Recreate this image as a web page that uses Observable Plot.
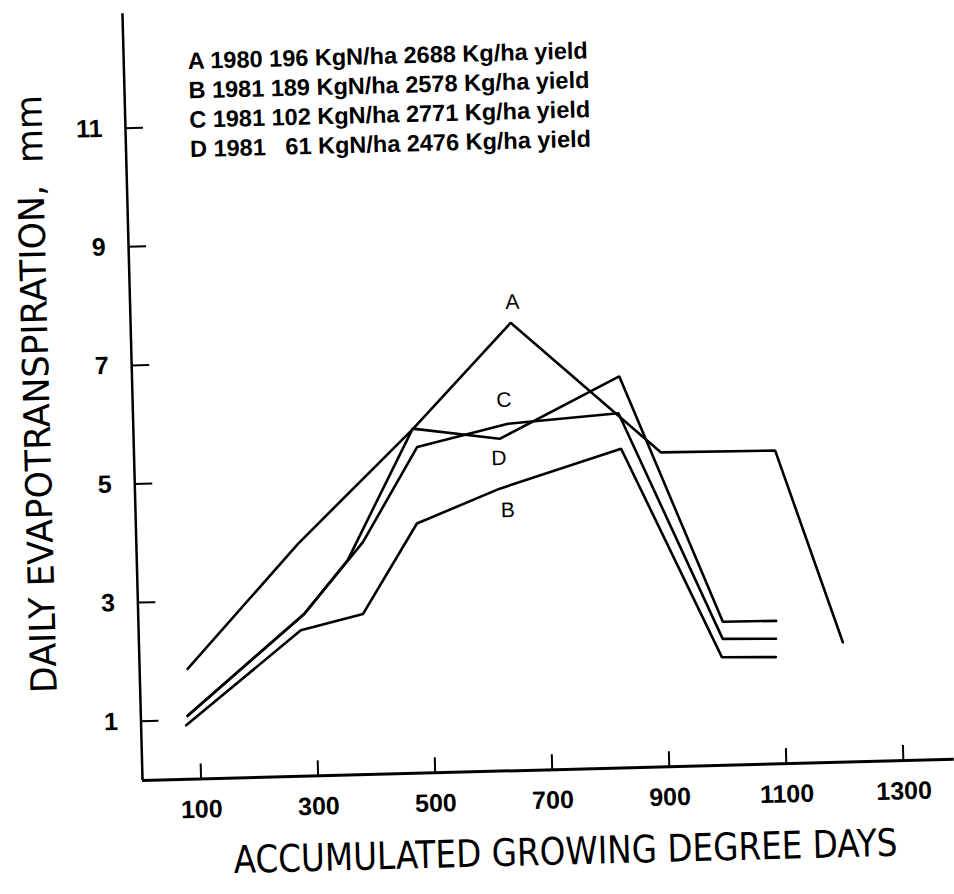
<!DOCTYPE html>
<html><head><meta charset="utf-8">
<script src="https://cdn.jsdelivr.net/npm/d3@7"></script>
<script src="https://cdn.jsdelivr.net/npm/@observablehq/plot@0.6"></script>
<style>
html,body{margin:0;padding:0;background:#fff;overflow:hidden;width:954px;height:894px}
#wrap{position:absolute;left:0;top:0;width:954px;height:894px;transform-origin:142px 779px;transform:rotate(-1.5deg)}
svg text{white-space:pre}
</style></head><body><div id="wrap"></div>
<script>
// Series (accumulated growing degree days, daily evapotranspiration mm)
const xA = [82, 276, 478, 649, 900, 1095, 1202];
const yA = [1.86, 3.92, 5.81, 7.55, 5.30, 5.28, 2.02];
const xB = [77, 277, 384, 480, 623, 832, 995, 1087];
const yB = [0.91, 2.46, 2.71, 4.21, 4.76, 5.38, 1.82, 1.80];
const xC = [80, 284, 360, 477, 625, 832, 998, 1089];
const yC = [1.07, 2.74, 3.62, 5.81, 5.60, 6.60, 2.42, 2.41];
const xD = [80, 284, 387, 484, 640, 829, 997, 1088];
const yD = [1.07, 2.74, 3.92, 5.50, 5.85, 5.98, 2.13, 2.11];

const seriesNames = ["A", "B", "C", "D"];
const labelX = [653, 636, 634, 623];
const labelY = [7.9, 4.39, 6.25, 5.27];

const legendYears = ["1980", "1981", "1981", "1981"];
const legendNitrogen = ["196", "189", "102", "61"];
const legendYield = ["2688", "2578", "2771", "2476"];

const xTicks = [100, 300, 500, 700, 900, 1100, 1300];
const yTicks = [1, 3, 5, 7, 9, 11];
const xTitle = "ACCUMULATED GROWING DEGREE DAYS";
const yTitle = "DAILY EVAPOTRANSPIRATION,  mm";

const xs = [xA, xB, xC, xD], ys = [yA, yB, yC, yD];
const rows = [];
seriesNames.forEach((s, i) => xs[i].forEach((x, j) => rows.push({series: s, x, y: ys[i][j]})));
const labels = seriesNames.map((s, i) => ({s, x: labelX[i], y: labelY[i]}));
const legendText = seriesNames.map((s, i) => {
  const n = legendNitrogen[i];
  const pad = " ".repeat(2 * (3 - n.length));
  return `${s} ${legendYears[i]} ${pad}${n} KgN/ha ${legendYield[i]} Kg/ha yield`;
}).join("\n");

const font = "'Liberation Sans', Arial, Helvetica, sans-serif";
const condensed = "'Liberation Sans Narrow', 'DejaVu Sans Condensed', 'Arial Narrow', sans-serif";

const chart = Plot.plot({
  width: 954,
  height: 894,
  marginLeft: 142,
  marginRight: 0,
  marginTop: 13,
  marginBottom: 114,
  style: {background: "white", overflow: "visible", fontFamily: font, color: "black"},
  x: {domain: [0, 1387], axis: null},
  y: {domain: [0, 12.93], axis: null},
  marks: [
    Plot.axisX(xTicks, {tickSize: -15, fill: "none", strokeWidth: 2, label: null}),
    Plot.axisX(xTicks, {tickSize: 0, tickPadding: 21, fontSize: 25, fontWeight: "bold", tickFormat: d => String(d), label: null}),
    Plot.axisY(yTicks, {tickSize: -18, fill: "none", strokeWidth: 2, label: null}),
    Plot.axisY(yTicks, {tickSize: 0, tickPadding: 23, fontSize: 25, fontWeight: "bold", tickFormat: d => String(d), label: null}),
    Plot.ruleX([0], {strokeWidth: 2.5}),
    Plot.ruleY([0], {strokeWidth: 3}),
    Plot.line(rows, {x: "x", y: "y", z: "series", stroke: "black", strokeWidth: 2.6, strokeLinejoin: "miter"}),
    Plot.text(labels, {x: "x", y: "y", text: "s", fontSize: 21, fill: "black"}),
    Plot.text([legendText], {frameAnchor: "top-left", textAnchor: "start", lineAnchor: "top", dx: 64, dy: 36, fontSize: 23.5, fontWeight: "bold", lineHeight: 1.251, fill: "black"}),
    Plot.text([xTitle], {frameAnchor: "bottom", textAnchor: "middle", dx: 15, dy: 95, fontSize: 38, fontFamily: condensed, fill: "black"}),
    Plot.text([yTitle], {frameAnchor: "left", textAnchor: "middle", lineAnchor: "middle", rotate: -90, dx: -95, dy: -5.5, fontSize: 36, fontFamily: condensed, fill: "black"})
  ]
});
document.getElementById("wrap").appendChild(chart);
chart.querySelectorAll("text").forEach(t => {
  const s = t.textContent;
  if (s.startsWith("ACCUMULATED")) { t.setAttribute("textLength", 664); t.setAttribute("lengthAdjust", "spacingAndGlyphs"); }
  if (s.startsWith("DAILY")) { t.setAttribute("textLength", 598); t.setAttribute("lengthAdjust", "spacingAndGlyphs"); }
});
</script></body></html>
